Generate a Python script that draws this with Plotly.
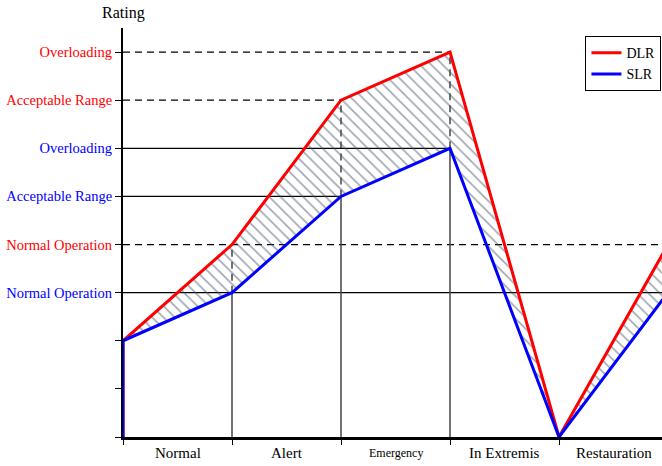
import plotly.graph_objects as go

# ---- data ----
categories = ["Normal", "Alert", "Emergency", "In Extremis", "Restauration"]
x_pts = [0, 0, 1, 2, 3, 4, 5]
dlr = [0, 2, 4, 7, 8, 0, 4]
slr = [0, 2, 3, 5, 6, 0, 3]
tick_vals = [0, 1, 2, 3, 4, 5, 6, 7, 8]
tick_labels = ["", "", "", "Normal Operation", "Normal Operation", "Acceptable Range",
               "Overloading", "Acceptable Range", "Overloading"]
tick_colors = ["black", "black", "black", "blue", "red", "blue", "blue", "red", "red"]
# breakpoints whose reference lines are drawn (index into x_pts)
ref_idx = [2, 3, 4]
full_width = [True, False, False]

FONT = "Liberation Serif"
RED = "#ff0000"
BLUE = "#0000ff"

fig = go.Figure()

# hatched band between SLR and DLR (skip the vertical start segment)
fig.add_trace(go.Scatter(x=x_pts[1:], y=slr[1:], mode="lines", line=dict(width=0),
                         showlegend=False, hoverinfo="skip"))
fig.add_trace(go.Scatter(x=x_pts[1:], y=dlr[1:], mode="lines", line=dict(width=0),
                         fill="tonexty", fillcolor="rgba(0,0,0,0)",
                         fillpattern=dict(shape="\\", fgcolor="#3e4e62",
                                          bgcolor="rgba(0,0,0,0)", size=8, solidity=0.2),
                         showlegend=False, hoverinfo="skip"))

fig.add_trace(go.Scatter(x=x_pts, y=dlr, mode="lines", name="DLR",
                         line=dict(color=RED, width=3)))
fig.add_trace(go.Scatter(x=x_pts, y=slr, mode="lines", name="SLR",
                         line=dict(color=BLUE, width=3)))

# reference lines derived from data
for k, i in enumerate(ref_idx):
    xv, ys, yd = x_pts[i], slr[i], dlr[i]
    if full_width[k]:
        fig.add_shape(type="line", xref="paper", yref="y", x0=0, x1=1, y0=ys, y1=ys,
                      line=dict(color="black", width=1.2), layer="below")
        fig.add_shape(type="line", xref="paper", yref="y", x0=0, x1=1, y0=yd, y1=yd,
                      line=dict(color="black", width=1.2, dash="7px,5px"), layer="below")
    else:
        fig.add_shape(type="line", x0=0, x1=xv, y0=ys, y1=ys,
                      line=dict(color="black", width=1.2), layer="below")
        fig.add_shape(type="line", x0=0, x1=xv, y0=yd, y1=yd,
                      line=dict(color="black", width=1.2, dash="7px,5px"), layer="below")
    fig.add_shape(type="line", x0=xv, x1=xv, y0=0, y1=ys,
                  line=dict(color="#444444", width=1.5), layer="below")
    fig.add_shape(type="line", x0=xv, x1=xv, y0=ys, y1=yd,
                  line=dict(color="#444444", width=1.5, dash="7px,5px"), layer="below")

# category labels centred between integer ticks
for j, c in enumerate(categories):
    fig.add_annotation(x=j + 0.5, y=-0.039, xref="x", yref="paper", text=c,
                       showarrow=False, yanchor="middle",
                       font=dict(family=FONT, size=12 if c == "Emergency" else 15, color="black"))

fig.add_annotation(x=0, y=1.037, xref="x", yref="paper", text="Rating", showarrow=False,
                   yanchor="middle", font=dict(family=FONT, size=16, color="black"))

ticktext = [f"<span style='color:{col}'>{t}</span>" if t else "" for t, col in zip(tick_labels, tick_colors)]

fig.update_layout(
    width=662, height=466,
    margin=dict(l=123, r=0, t=28, b=29),
    plot_bgcolor="white", paper_bgcolor="white",
    font=dict(family=FONT, size=14, color="black"),
    xaxis=dict(range=[0, 4.945], tickvals=[0, 1, 2, 3, 4, 5], ticktext=[""] * 6,
               ticks="outside", ticklen=5, tickcolor="black", tickwidth=1,
               showline=True, linecolor="black", linewidth=2.5,
               showgrid=False, zeroline=False),
    yaxis=dict(range=[0, 8.5], tickvals=tick_vals, ticktext=ticktext,
               ticks="outside", ticklen=6, tickcolor="black", tickwidth=1,
               showline=True, linecolor="black", linewidth=2,
               showgrid=False, zeroline=False, tickfont=dict(family=FONT, size=14.5)),
    legend=dict(x=0.999, y=0.98, xanchor="right", yanchor="top", traceorder="normal",
                bgcolor="white", bordercolor="black", borderwidth=1,
                font=dict(family=FONT, size=14), itemwidth=30, tracegroupgap=0),
    showlegend=True,
)

fig.write_html("out.html", config={"displayModeBar": False},
               post_script="document.body.style.margin='0';")
